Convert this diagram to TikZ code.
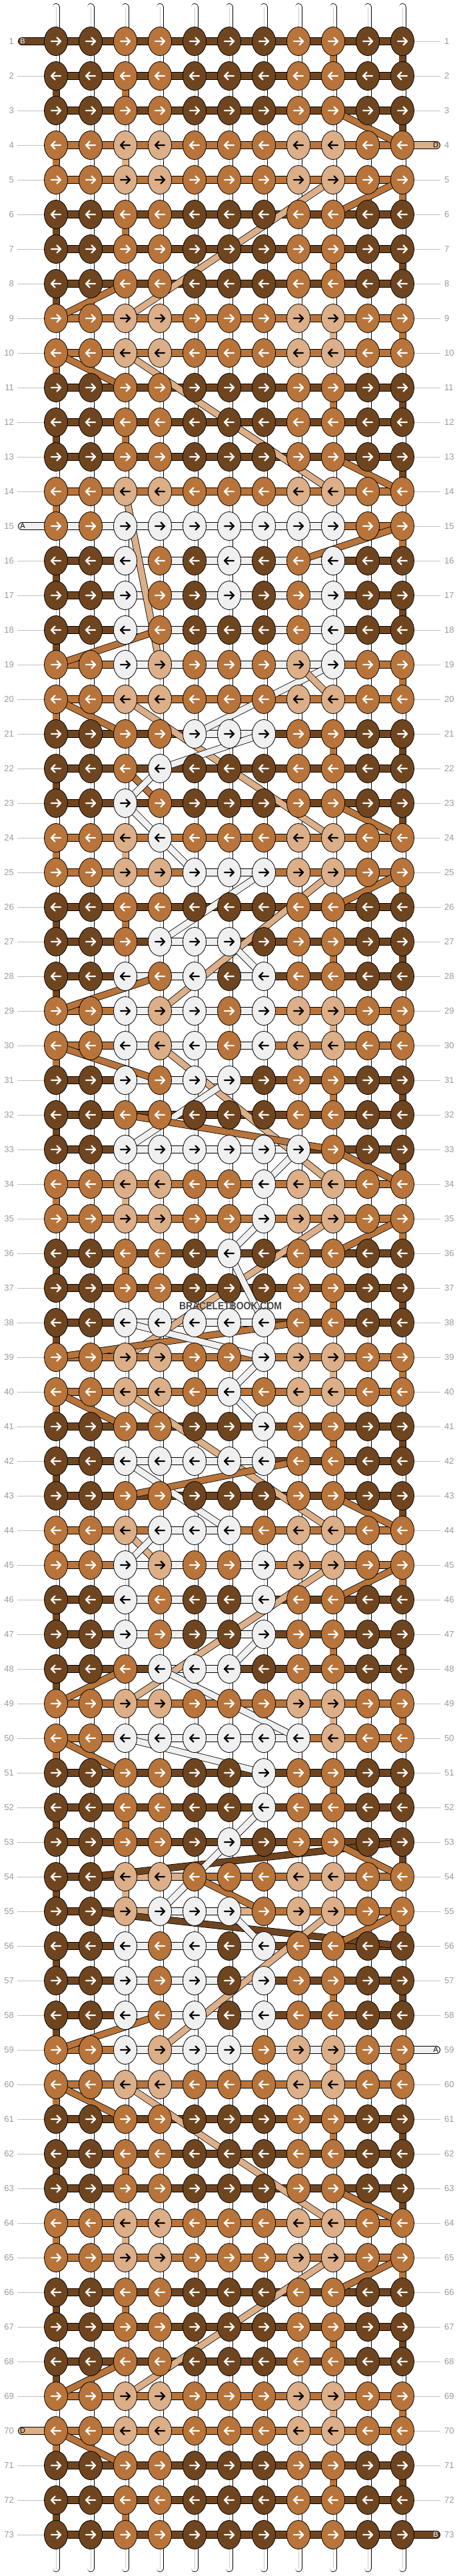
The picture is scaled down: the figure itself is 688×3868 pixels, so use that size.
\documentclass[tikz,border=0pt]{standalone}
\usepackage{fontspec}
\setmainfont{Liberation Sans}
\usetikzlibrary{shapes.geometric}

\definecolor{kD}{HTML}{6F4520}
\definecolor{kM}{HTML}{B8743A}
\definecolor{kL}{HTML}{DCAF88}
\definecolor{kW}{HTML}{F0F0F0}
\colorlet{aD}{white}
\colorlet{aM}{white}
\colorlet{aL}{black}
\colorlet{aW}{black}
\definecolor{labgray}{HTML}{9A9A9A}
\definecolor{linegray}{HTML}{C0C0C0}

\pgfdeclarelayer{back}
\pgfdeclarelayer{mid}
\pgfsetlayers{back,mid,main}

\tikzset{
  knot/.style={ellipse, draw, line width=0.8pt, minimum width=35pt, minimum height=43pt, inner sep=0pt},
  hbar/.style={double=#1, double distance=10.4pt, line width=0.8pt},
  vthread/.style={double=#1, double distance=9.4pt, line width=0.8pt},
  vthread/.default=white,
  core/.style={draw=gray!40, line width=1pt},
  strand/.style={double=#1, double distance=9pt, line width=0.8pt},
  rowlab/.style={text=labgray, font=\fontsize{13}{13}\selectfont, inner sep=2.5pt},
  rowline/.style={draw=linegray, line width=0.8pt},
  tab/.style={double=#1, double distance=10.4pt, line width=0.8pt, line cap=round},
  tablab/.style={font=\fontsize{11}{11}\selectfont, inner sep=0pt}
}

\begin{document}
\begin{tikzpicture}[x=1pt,y=-1pt]
\useasboundingbox (0,0) rectangle (688,3868);
\begin{pgfonlayer}{back}
\fill[white] (0,0) rectangle (688,3868);
\end{pgfonlayer}

% knots, arrows, row bars and row numbers
\foreach \ro/\ks/\bs in {
 1/{D,D,M,M,D,D,D,M,M,D,D}/{D,D,D,D,D,D,D,D,D,D},
 2/{D,D,M,M,D,D,D,M,M,D,D}/{D,D,D,D,D,D,D,D,D,D},
 3/{D,D,M,M,D,D,D,M,M,D,D}/{D,D,D,D,D,D,D,D,D,D},
 4/{M,M,L,L,M,M,M,L,L,M,M}/{M,M,M,M,M,M,M,M,M,M},
 5/{M,M,L,L,M,M,M,L,L,M,M}/{M,M,M,M,M,M,M,M,M,M},
 6/{D,D,M,M,D,D,D,M,M,D,D}/{D,D,D,D,D,D,D,D,D,D},
 7/{D,D,M,M,D,D,D,M,M,D,D}/{D,D,D,D,D,D,D,D,D,D},
 8/{D,D,M,M,D,D,D,M,M,D,D}/{D,D,D,D,D,D,D,D,D,D},
 9/{M,M,L,L,M,M,M,L,L,M,M}/{M,M,M,M,M,M,M,M,M,M},
 10/{M,M,L,L,M,M,M,L,L,M,M}/{M,M,M,M,M,M,M,M,M,M},
 11/{D,D,M,M,D,D,D,M,M,D,D}/{D,D,D,D,D,D,D,D,D,D},
 12/{D,D,M,M,D,D,D,M,M,D,D}/{D,D,D,D,D,D,D,D,D,D},
 13/{D,D,M,M,D,D,D,M,M,D,D}/{D,D,D,D,D,D,D,D,D,D},
 14/{M,M,L,L,M,M,M,L,L,M,M}/{M,M,M,M,M,M,M,M,M,M},
 15/{M,M,W,W,W,W,W,W,W,M,M}/{W,W,W,W,W,W,W,W,M,M},
 16/{D,D,W,M,D,W,D,M,W,D,D}/{D,D,W,W,W,W,W,W,D,D},
 17/{D,D,W,M,D,W,D,M,W,D,D}/{D,D,W,W,W,W,W,W,D,D},
 18/{D,D,W,M,D,D,D,M,W,D,D}/{D,D,W,W,W,W,W,W,D,D},
 19/{M,M,W,L,M,M,M,L,W,M,M}/{M,M,W,W,W,W,W,W,M,M},
 20/{M,M,L,L,M,M,M,L,L,M,M}/{M,M,M,M,M,M,M,M,M,M},
 21/{D,D,M,M,W,W,W,M,M,D,D}/{D,D,D,D,W,W,D,D,D,D},
 22/{D,D,M,W,D,D,D,M,M,D,D}/{D,D,D,D,D,D,D,D,D,D},
 23/{D,D,W,M,D,D,D,M,M,D,D}/{D,D,D,D,D,D,D,D,D,D},
 24/{M,M,L,W,M,M,M,L,L,M,M}/{M,M,M,M,M,M,M,M,M,M},
 25/{M,M,L,L,W,W,W,L,L,M,M}/{M,M,M,M,W,W,M,M,M,M},
 26/{D,D,M,M,D,D,D,M,M,D,D}/{D,D,D,D,D,D,D,D,D,D},
 27/{D,D,M,W,W,W,D,M,M,D,D}/{D,D,D,W,W,D,D,D,D,D},
 28/{D,D,W,M,W,D,W,M,M,D,D}/{D,D,W,W,W,W,D,D,D,D},
 29/{M,M,W,L,W,M,W,L,L,M,M}/{M,M,W,W,W,W,M,M,M,M},
 30/{M,M,W,L,W,M,W,L,L,M,M}/{M,M,W,W,W,W,M,M,M,M},
 31/{D,D,W,M,W,W,D,M,M,D,D}/{D,D,W,W,W,D,D,D,D,D},
 32/{D,D,M,M,D,D,D,M,M,D,D}/{D,D,D,D,D,D,D,D,D,D},
 33/{D,D,W,W,W,W,W,W,M,D,D}/{D,D,W,W,W,W,W,D,D,D},
 34/{M,M,L,L,M,M,W,L,L,M,M}/{M,M,M,M,M,M,M,M,M,M},
 35/{M,M,L,L,M,M,W,L,L,M,M}/{M,M,M,M,M,M,M,M,M,M},
 36/{D,D,M,M,D,W,D,M,M,D,D}/{D,D,D,D,D,D,D,D,D,D},
 37/{D,D,M,M,D,D,D,M,M,D,D}/{D,D,D,D,D,D,D,D,D,D},
 38/{D,D,W,W,W,W,W,M,M,D,D}/{D,D,W,W,W,W,D,D,D,D},
 39/{M,M,L,L,M,M,W,L,L,M,M}/{M,M,M,M,M,M,M,M,M,M},
 40/{M,M,L,L,M,W,M,L,L,M,M}/{M,M,M,M,M,M,M,M,M,M},
 41/{D,D,M,M,D,D,W,M,M,D,D}/{D,D,D,D,D,D,D,D,D,D},
 42/{D,D,W,W,W,W,W,M,M,D,D}/{D,D,W,W,W,W,D,D,D,D},
 43/{D,D,M,M,D,D,D,M,M,D,D}/{D,D,D,D,D,D,D,D,D,D},
 44/{M,M,L,W,W,W,M,L,L,M,M}/{M,M,M,W,W,M,M,M,M,M},
 45/{M,M,W,L,M,M,W,L,L,M,M}/{M,M,W,W,W,W,M,M,M,M},
 46/{D,D,W,M,D,D,W,M,M,D,D}/{D,D,W,W,W,W,D,D,D,D},
 47/{D,D,W,M,D,D,W,M,M,D,D}/{D,D,W,W,W,W,D,D,D,D},
 48/{D,D,M,W,W,W,D,M,M,D,D}/{D,D,D,W,W,D,D,D,D,D},
 49/{M,M,L,L,M,M,M,L,L,M,M}/{M,M,M,M,M,M,M,M,M,M},
 50/{M,M,W,W,W,W,W,W,L,M,M}/{M,M,W,W,W,W,W,M,M,M},
 51/{D,D,M,M,D,D,W,M,M,D,D}/{D,D,D,D,D,D,D,D,D,D},
 52/{D,D,M,M,D,D,W,M,M,D,D}/{D,D,D,D,D,D,D,D,D,D},
 53/{D,D,M,M,D,W,D,M,M,D,D}/{D,D,D,D,D,D,D,D,D,D},
 54/{D,D,L,L,M,M,M,L,L,M,M}/{D,D,L,L,M,M,M,M,M,M},
 55/{D,D,L,W,W,W,M,L,L,M,M}/{D,D,L,W,W,L,M,M,M,M},
 56/{D,D,W,M,W,D,W,M,M,D,D}/{D,D,W,W,W,W,D,D,D,D},
 57/{D,D,W,M,W,D,W,M,M,D,D}/{D,D,W,W,W,W,D,D,D,D},
 58/{D,D,W,M,W,D,W,M,M,D,D}/{D,D,W,W,W,W,D,D,D,D},
 59/{M,M,W,L,W,W,M,L,L,M,M}/{M,M,W,W,W,W,W,W,W,W},
 60/{M,M,L,L,M,M,M,L,L,M,M}/{M,M,M,M,M,M,M,M,M,M},
 61/{D,D,M,M,D,D,D,M,M,D,D}/{D,D,D,D,D,D,D,D,D,D},
 62/{D,D,M,M,D,D,D,M,M,D,D}/{D,D,D,D,D,D,D,D,D,D},
 63/{D,D,M,M,D,D,D,M,M,D,D}/{D,D,D,D,D,D,D,D,D,D},
 64/{M,M,L,L,M,M,M,L,L,M,M}/{M,M,M,M,M,M,M,M,M,M},
 65/{M,M,L,L,M,M,M,L,L,M,M}/{M,M,M,M,M,M,M,M,M,M},
 66/{D,D,M,M,D,D,D,M,M,D,D}/{D,D,D,D,D,D,D,D,D,D},
 67/{D,D,M,M,D,D,D,M,M,D,D}/{D,D,D,D,D,D,D,D,D,D},
 68/{D,D,M,M,D,D,D,M,M,D,D}/{D,D,D,D,D,D,D,D,D,D},
 69/{M,M,L,L,M,M,M,L,L,M,M}/{M,M,M,M,M,M,M,M,M,M},
 70/{M,M,L,L,M,M,M,L,L,M,M}/{M,M,M,M,M,M,M,M,M,M},
 71/{D,D,M,M,D,D,D,M,M,D,D}/{D,D,D,D,D,D,D,D,D,D},
 72/{D,D,M,M,D,D,D,M,M,D,D}/{D,D,D,D,D,D,D,D,D,D},
 73/{D,D,M,M,D,D,D,M,M,D,D}/{D,D,D,D,D,D,D,D,D,D}} {
  \pgfmathsetmacro\yy{62+52*(\ro-1)}
  \pgfmathsetmacro\sg{ifthenelse(mod(\ro,2)==1,1,-1)}
  \foreach \kk [count=\co] in \ks {
    \pgfmathsetmacro\xx{84+52*(\co-1)}
    \node[knot, fill=k\kk] (k\ro-\co) at (\xx,\yy) {};
    \draw[a\kk, line width=2.4pt, line cap=round, line join=round]
      ({\xx-7*\sg},\yy) -- ({\xx+7*\sg},\yy)
      ({\xx+1.5*\sg},{\yy-5.5}) -- ({\xx+7*\sg},\yy) -- ({\xx+1.5*\sg},{\yy+5.5});
  }
  \node[rowlab, anchor=east] (ln\ro) at (23.5,\yy) {\ro};
  \node[rowlab, anchor=west] (rn\ro) at (664.5,\yy) {\ro};
  \begin{pgfonlayer}{back}
    \foreach \bb [count=\co] in \bs {
      \pgfmathtruncatemacro\cn{\co+1}
      \draw[hbar=k\bb] (k\ro-\co.center) -- (k\ro-\cn.center);
    }
    \draw[rowline, shorten <=2.5pt] (ln\ro) -- (k\ro-1);
    \draw[rowline, shorten >=3.5pt] (k\ro-11) -- (rn\ro);
  \end{pgfonlayer}
}

\begin{pgfonlayer}{back}
% vertical threads
\foreach \ro in {1,...,72} {
  \pgfmathtruncatemacro\rn{\ro+1}
  \foreach \co in {1,...,11} {
    \draw[vthread] (k\ro-\co.center) -- (k\rn-\co.center);
    \draw[core] (k\ro-\co.center) -- (k\rn-\co.center);
  }
}
\foreach \ro/\co/\kk in {1/11/D,1/9/M,2/1/D,2/3/M,3/11/D,4/1/M,4/3/L,5/11/M,6/1/D,6/3/M,
  7/11/D,7/9/M,8/1/D,9/11/M,9/9/L,10/1/M,11/11/D,11/9/M,12/1/D,12/3/M,13/11/D,14/1/M,
  15/11/M,16/1/D,17/11/D,18/1/D,19/11/M,20/1/M,21/11/D,21/9/M,22/1/D,23/11/D,24/1/M,
  24/3/L,25/11/M,26/1/D,26/3/M,27/11/D,27/9/M,28/1/D,29/11/M,29/9/L,30/1/M,31/11/D,
  31/9/M,32/1/D,33/11/D,34/1/M,34/3/L,35/11/M,36/1/D,36/3/M,37/11/D,37/9/M,38/1/D,
  39/11/M,39/9/L,40/1/M,41/11/D,41/9/M,42/1/D,43/11/D,44/1/M,45/11/M,46/1/D,47/11/D,
  47/9/M,48/1/D,49/11/M,49/9/L,50/1/M,51/11/D,51/9/M,52/1/D,52/3/M,53/11/D,54/1/D,
  54/3/L,55/11/M,56/1/D,57/11/D,57/9/M,58/1/D,59/11/M,59/9/L,60/1/M,61/11/D,61/9/M,
  62/1/D,62/3/M,63/11/D,64/1/M,64/3/L,65/11/M,66/1/D,66/3/M,67/11/D,67/9/M,68/1/D,
  69/11/M,69/9/L,70/1/M,71/11/D,71/9/M,72/1/D,72/3/M} {
  \pgfmathtruncatemacro\rn{\ro+1}
  \draw[vthread=k\kk] (k\ro-\co.center) -- (k\rn-\co.center);
}
% loose ends at top and bottom
\foreach \co in {1,...,11} {
  \pgfmathsetmacro\xx{84+52*(\co-1)}
  \coordinate (t\co) at (\xx,10.5);
  \coordinate (b\co) at (\xx,3856.5);
  \draw[vthread, line cap=round] (t\co) -- (k1-\co.center);
  \draw[core] (t\co) -- (k1-\co.center);
  \draw[vthread, line cap=round] (k73-\co.center) -- (b\co);
  \draw[core] (k73-\co.center) -- (b\co);
}
% string ends
\coordinate (e1) at (33,62);
\coordinate (e4) at (655,218);
\coordinate (e15) at (33,790);
\coordinate (e59) at (655,3078);
\coordinate (e70) at (33,3650);
\coordinate (e73) at (655,3806);
\draw[tab=kD] (e1) -- (k1-1.center);
\draw[tab=kL] (e4) -- (k4-11.center);
\draw[tab=kW] (e15) -- (k15-1.center);
\draw[tab=kW] (e59) -- (k59-11.center);
\draw[tab=kL] (e70) -- (k70-1.center);
\draw[tab=kD] (e73) -- (k73-11.center);
\end{pgfonlayer}

\node[tablab, text=white] (s1) at (34,62) {B};
\node[tablab] (s4) at (654,218) {D};
\node[tablab] (s15) at (34,790) {A};
\node[tablab] (s59) at (654,3078) {A};
\node[tablab] (s70) at (34,3650) {D};
\node[tablab, text=white] (s73) at (654,3806) {B};

% moved strands
\begin{pgfonlayer}{mid}
\foreach \sa/\sb/\kk in {3-9/4-11/M, 5-11/6-9/M, 5-9/9-3/L, 8-3/9-1/M, 10-1/11-3/M,
  10-3/14-9/L, 13-9/14-11/M, 14-3/19-4/L, 15-11/16-8/M, 18-4/19-1/M, 19-9/20-7/W,
  19-8/20-9/L, 20-1/21-3/M, 20-3/24-9/L, 20-7/21-5/W, 21-7/22-4/W, 22-3/23-4/M,
  22-4/23-3/W, 23-3/24-4/W, 23-9/24-11/M, 24-4/25-5/W, 25-9/29-4/L, 25-11/26-9/M,
  25-7/27-4/W, 27-6/28-7/W, 28-4/29-1/M, 30-1/31-4/M, 30-4/34-9/L, 31-6/33-3/W,
  32-3/33-9/M, 33-9/34-11/M, 33-8/34-7/W, 35-7/36-6/W, 35-9/39-3/L, 35-11/36-9/M,
  36-6/38-7/W, 38-8/39-1/M, 38-3/39-7/W, 39-7/40-6/W, 40-6/41-7/W, 40-1/41-3/M,
  40-3/44-9/L, 42-3/44-6/W, 42-8/43-3/M, 43-9/44-11/M, 44-3/45-4/L, 44-4/45-3/W,
  45-9/49-3/L, 45-11/46-9/M, 47-7/48-6/W, 48-3/49-1/M, 48-4/50-8/W, 50-1/51-3/M,
  50-3/51-7/W, 52-7/53-6/W, 53-11/54-2/D, 53-9/54-11/M, 53-6/55-4/W, 54-5/55-7/M,
  55-2/56-11/D, 55-9/59-4/L, 55-11/56-9/M, 55-6/56-7/W, 58-4/59-1/M, 60-1/61-3/M,
  60-3/64-9/L, 63-9/64-11/M, 65-11/66-9/M, 65-9/69-3/L, 68-3/69-1/M, 70-1/71-3/M} {
  \draw[strand=k\kk] (k\sa.center) -- (k\sb.center);
}
\end{pgfonlayer}

\node[font=\bfseries\fontsize{16}{16}\selectfont, text=black!72] (wm) at (346,1961)
  {\scalebox{0.87}[1]{BRACELETBOOK.COM}};
\end{tikzpicture}
\end{document}
